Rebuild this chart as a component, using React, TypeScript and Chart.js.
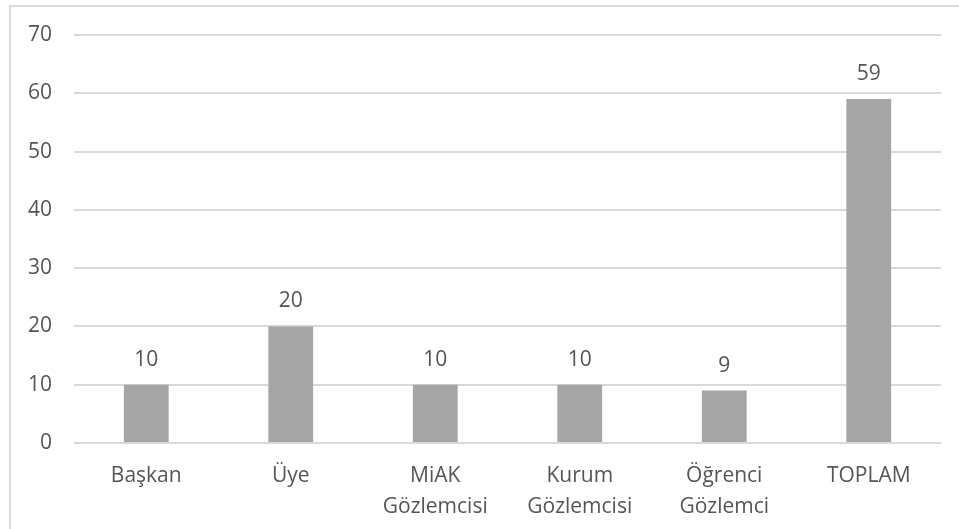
import React, { useEffect, useRef } from "react";
import { Chart, registerables } from "chart.js";

Chart.register(...registerables);

const categories: (string | string[])[] = [
  "Başkan",
  "Üye",
  ["MiAK", "Gözlemcisi"],
  ["Kurum", "Gözlemcisi"],
  ["Öğrenci", "Gözlemci"],
  "TOPLAM",
];
const values: number[] = [10, 20, 10, 10, 9, 59];
const yTicks: number[] = [0, 10, 20, 30, 40, 50, 60, 70];

const FONT = "'Open Sans', 'DejaVu Sans', sans-serif";
const TEXT = "#555555";

const borderPlugin = {
  id: "outerBorder",
  beforeDraw(chart: any) {
    const ctx = chart.ctx;
    ctx.save();
    ctx.fillStyle = "#ffffff";
    ctx.fillRect(0, 0, chart.width, chart.height);
    ctx.strokeStyle = "#D9D9D9";
    ctx.lineWidth = 2;
    ctx.strokeRect(10, 6, chart.width + 20, chart.height + 20);
    ctx.restore();
  },
};

const labelPlugin = {
  id: "valueLabels",
  afterDatasetsDraw(chart: any) {
    const ctx = chart.ctx;
    const meta = chart.getDatasetMeta(0);
    ctx.save();
    ctx.font = `21px ${FONT}`;
    ctx.fillStyle = TEXT;
    ctx.textAlign = "center";
    ctx.textBaseline = "middle";
    meta.data.forEach((bar: any, i: number) => {
      ctx.fillText(String(values[i]), bar.x, bar.y - 25);
    });
    ctx.restore();
  },
};

export default function App() {
  const ref = useRef<HTMLCanvasElement | null>(null);
  useEffect(() => {
    document.body.style.margin = "0";
    const chart = new Chart(ref.current!, {
      type: "bar",
      data: {
        labels: categories,
        datasets: [
          {
            data: values,
            backgroundColor: "#A5A5A5",
            barPercentage: 0.31,
            categoryPercentage: 1,
          },
        ],
      },
      options: {
        animation: false,
        responsive: false,
        layout: { padding: { left: 0, right: 18, top: 35, bottom: 0 } },
        plugins: { legend: { display: false }, tooltip: { enabled: false } },
        scales: {
          x: {
            grid: { display: false },
            border: { display: false },
            ticks: {
              color: TEXT,
              font: { family: FONT, size: 21, lineHeight: 1.45 },
              padding: 10,
              maxRotation: 0,
              autoSkip: false,
            },
            afterFit(scale: any) {
              scale.height = 86;
            },
          },
          y: {
            min: 0,
            max: 70,
            afterBuildTicks(scale: any) {
              scale.ticks = yTicks.map((v) => ({ value: v }));
            },
            grid: { color: "#D9D9D9", lineWidth: 2, drawTicks: false },
            border: { display: false },
            ticks: {
              color: TEXT,
              font: { family: FONT, size: 21 },
              padding: 22,
            },
            afterFit(scale: any) {
              scale.width = 74;
            },
          },
        },
      },
      plugins: [borderPlugin, labelPlugin],
    });
    return () => chart.destroy();
  }, []);
  return (
    <div style={{ width: 959, height: 529 }}>
      <canvas ref={ref} width={959} height={529} style={{ display: "block" }} />
    </div>
  );
}
